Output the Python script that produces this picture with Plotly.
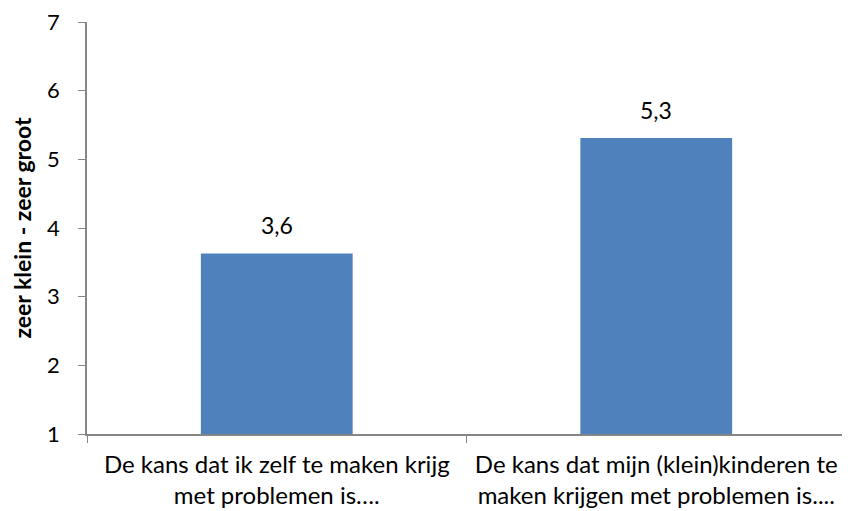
import plotly.graph_objects as go

categories = [
    "De kans dat ik zelf te maken krijg<br>met problemen is….",
    "De kans dat mijn (klein)kinderen te<br>maken krijgen met problemen is....",
]
values = [3.63, 5.31]
value_labels = ["3,6", "5,3"]
y_title = "zeer klein - zeer groot"
y_ticks = [1, 2, 3, 4, 5, 6, 7]

FONT = "Lato"
AXIS_COLOR = "#868686"

fig = go.Figure()
fig.add_trace(go.Bar(
    x=categories,
    y=[v - 1 for v in values],
    base=1,
    marker=dict(color="#4F81BD", line=dict(width=0)),
    width=0.4,
    hoverinfo="skip",
))

for c, v, t in zip(categories, values, value_labels):
    fig.add_annotation(x=c, y=v, text=t, showarrow=False, yanchor="bottom",
                       yshift=12, font=dict(family=FONT, size=23, color="#000000"))

# page body has an 8px margin, so the figure is offset by 8px
fig.update_layout(
    width=842, height=503,
    margin=dict(l=79, r=4, t=14, b=77),
    paper_bgcolor="white", plot_bgcolor="white",
    showlegend=False,
    font=dict(family=FONT, size=23, color="#000000"),
)
fig.update_xaxes(
    automargin=False,
    showline=True, linecolor=AXIS_COLOR, linewidth=1.5,
    ticks="outside", tickson="boundaries", ticklen=7, tickcolor=AXIS_COLOR,
    showgrid=False, tickfont=dict(family=FONT, size=24),
    ticklabelstandoff=8, ticklabeloverflow="allow",
)
fig.update_yaxes(
    automargin=False,
    range=[1, 7], tickvals=y_ticks,
    showline=True, linecolor=AXIS_COLOR, linewidth=1.5,
    ticks="outside", ticklen=7, tickcolor=AXIS_COLOR,
    showgrid=False, zeroline=False,
    tickfont=dict(family=FONT, size=22),
    ticklabelstandoff=14, ticklabeloverflow="allow",
    title=dict(text="<b>" + y_title + "</b>", font=dict(family=FONT, size=23), standoff=14),
)

fig.write_html("out.html")
